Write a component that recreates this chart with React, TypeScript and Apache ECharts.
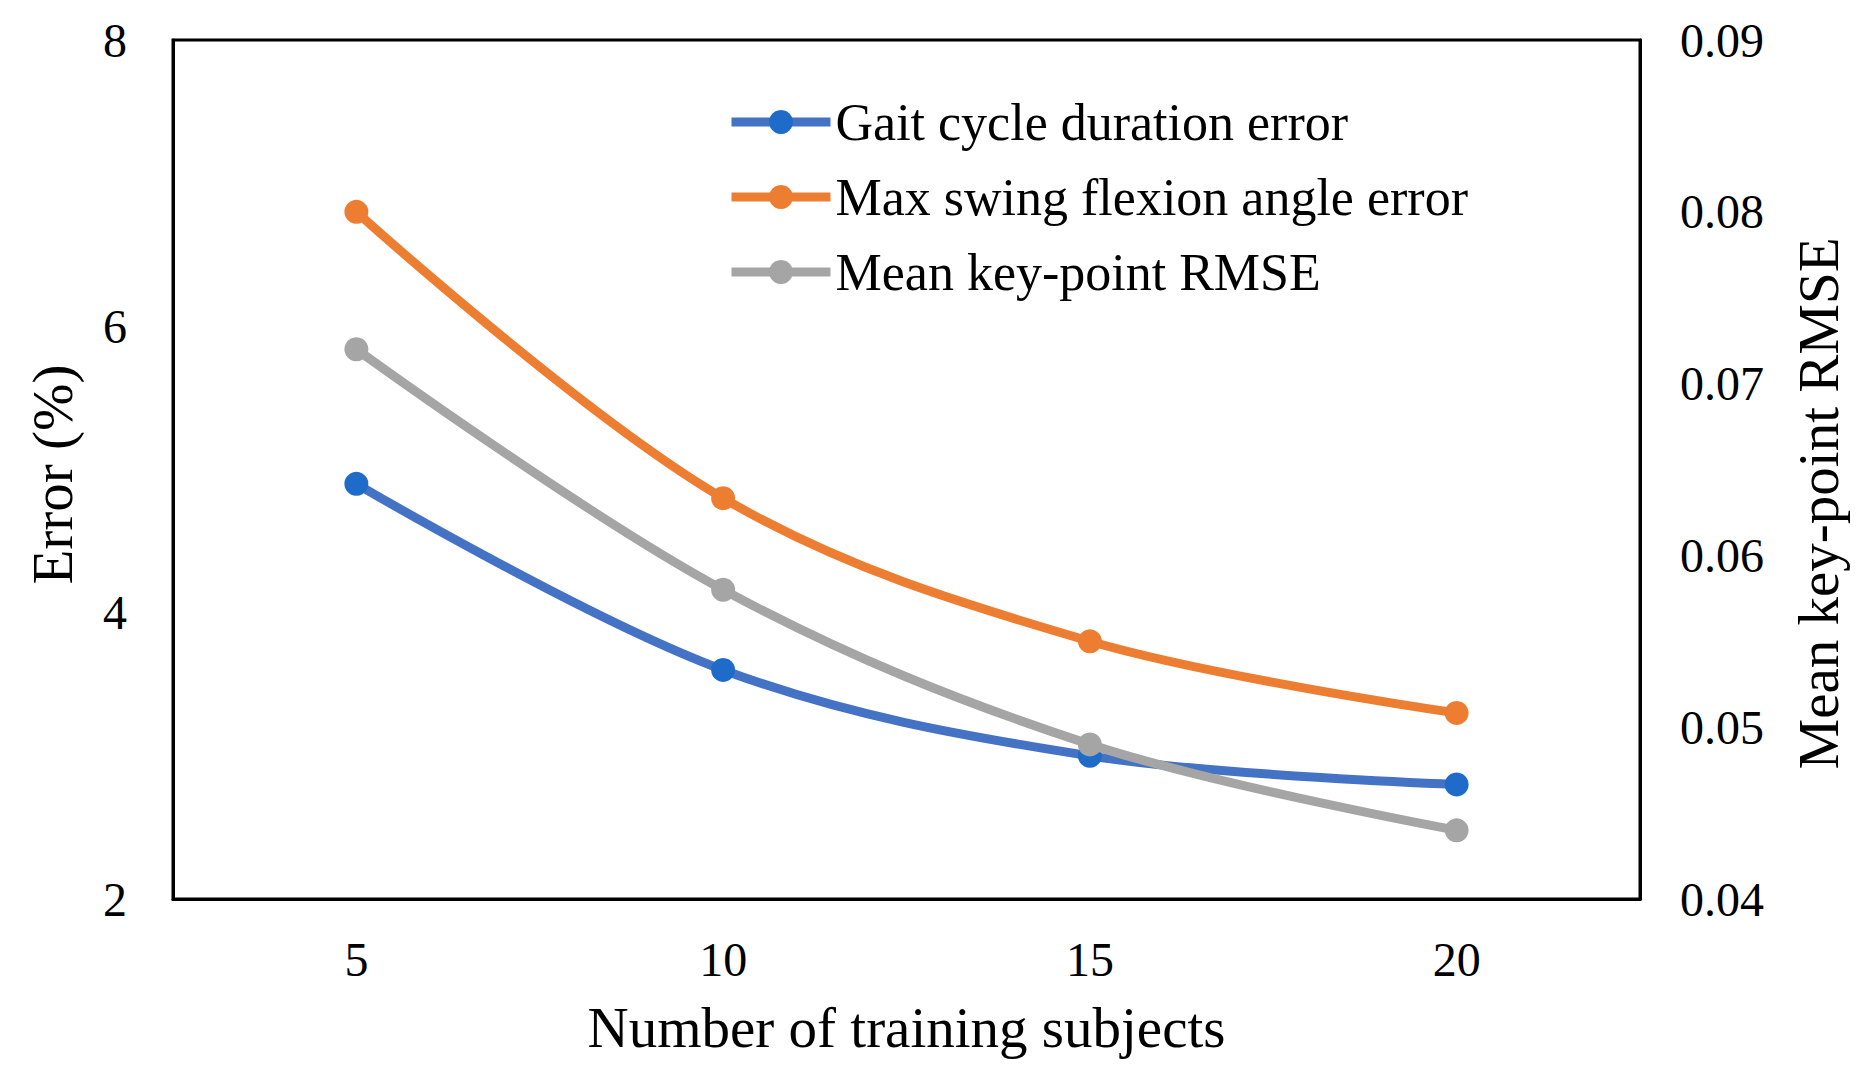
import React, { useEffect, useRef } from "react";
import * as echarts from "echarts";

const categories = ["5", "10", "15", "20"];
const gaitError = [4.9, 3.6, 3.0, 2.8];
const flexionError = [6.8, 4.8, 3.8, 3.3];
const keypointRmse = [0.072, 0.058, 0.049, 0.044];
const leftTicks = { min: 2, max: 8, interval: 2 };
const rightTicks = { min: 0.04, max: 0.09, interval: 0.01 };

const FONT = "'Liberation Serif', 'Times New Roman', serif";

export default function App() {
  const ref = useRef<HTMLDivElement>(null);
  useEffect(() => {
    if (!ref.current) return;
    const chart = echarts.init(ref.current, undefined, { renderer: "svg" });
    const lineW = 9;
    const symSize = 24;
    chart.setOption({
      animation: false,
      backgroundColor: "#ffffff",
      textStyle: { fontFamily: FONT, color: "#000" },
      grid: {
        left: 173,
        right: 224,
        top: 40,
        bottom: 187,
        show: true,
        borderColor: "#000",
        borderWidth: 3,
        backgroundColor: "transparent",
      },
      legend: {
        orient: "vertical",
        left: 722,
        top: 91,
        itemWidth: 99,
        itemHeight: 30,
        itemGap: 23,
        lineStyle: { width: 9 },
        textStyle: { fontSize: 52, fontFamily: FONT, color: "#000", lineHeight: 52 },
        data: ["Gait cycle duration error", "Max swing flexion angle error", "Mean key-point RMSE"],
      },
      xAxis: {
        type: "category",
        data: categories,
        boundaryGap: true,
        axisLine: { show: true, lineStyle: { color: "#000", width: 3 } },
        axisTick: { show: false },
        axisLabel: { fontSize: 48, fontFamily: FONT, color: "#000", margin: 36 },
        name: "Number of training subjects",
        nameLocation: "middle",
        nameGap: 100,
        nameTextStyle: { fontSize: 57, fontFamily: FONT, color: "#000" },
      },
      yAxis: [
        {
          type: "value",
          min: leftTicks.min,
          max: leftTicks.max,
          interval: leftTicks.interval,
          axisLine: { show: true, lineStyle: { color: "#000", width: 3 } },
          axisTick: { show: false },
          splitLine: { show: false },
          axisLabel: { fontSize: 48, fontFamily: FONT, color: "#000", margin: 46 },
          name: "Error (%)",
          nameLocation: "middle",
          nameRotate: 90,
          nameGap: 92,
          nameTextStyle: { fontSize: 57, fontFamily: FONT, color: "#000", padding: [0, 10, 0, 0] },
        },
        {
          type: "value",
          position: "right",
          min: rightTicks.min,
          max: rightTicks.max,
          interval: rightTicks.interval,
          axisLine: { show: true, lineStyle: { color: "#000", width: 3 } },
          axisTick: { show: false },
          splitLine: { show: false },
          axisLabel: {
            fontSize: 48,
            fontFamily: FONT,
            color: "#000",
            margin: 40,
            formatter: (v: number) => v.toFixed(2),
          },
          name: "Mean key-point RMSE",
          nameLocation: "middle",
          nameRotate: 90,
          nameGap: 150,
          nameTextStyle: { fontSize: 57, fontFamily: FONT, color: "#000", padding: [0, 68, 0, 0] },
        },
      ],
      series: [
        {
          name: "Gait cycle duration error",
          type: "line",
          data: gaitError,
          yAxisIndex: 0,
          smooth: 0.35,
          symbol: "circle",
          symbolSize: symSize,
          lineStyle: { color: "#4472C4", width: lineW },
          itemStyle: { color: "#1F6BC9" },
          z: 3,
        },
        {
          name: "Max swing flexion angle error",
          type: "line",
          data: flexionError,
          yAxisIndex: 0,
          smooth: 0.35,
          symbol: "circle",
          symbolSize: symSize,
          lineStyle: { color: "#ED7D31", width: lineW },
          itemStyle: { color: "#ED7D31" },
          z: 3,
        },
        {
          name: "Mean key-point RMSE",
          type: "line",
          data: keypointRmse,
          yAxisIndex: 1,
          smooth: 0.35,
          symbol: "circle",
          symbolSize: symSize,
          lineStyle: { color: "#A5A5A5", width: lineW },
          itemStyle: { color: "#A5A5A5" },
          z: 4,
        },
      ],
    });
    return () => chart.dispose();
  }, []);
  return (
    <div
      ref={ref}
      style={{ position: "fixed", left: 0, top: 0, width: 1864, height: 1086, background: "#fff" }}
    />
  );
}
